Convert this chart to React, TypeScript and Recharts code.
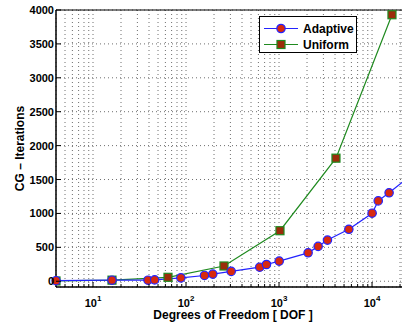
import { LineChart, Line, XAxis, YAxis, CartesianGrid, ReferenceLine, Legend, Label } from 'recharts'

const FONT = '"Liberation Sans", Arial, Helvetica, sans-serif'

const adaptiveDof = [4, 16, 39, 46, 88, 158, 194, 306, 620, 733, 1004, 2055, 2633, 3317, 5632, 10020, 11660, 15260, 26000]
const adaptiveIters = [8, 15, 15, 20, 50, 85, 105, 145, 207, 247, 296, 419, 514, 607, 766, 1003, 1185, 1304, 1560]

const uniformDof = [4, 16, 64, 256, 1024, 4096, 16384]
const uniformIters = [4, 16, 58, 225, 745, 1815, 3930]

const yTicks = [0, 500, 1000, 1500, 2000, 2500, 3000, 3500, 4000]
const xMajorTicks = [10, 100, 1000, 10000]
const xTicks = [
  5, 6, 7, 8, 9, 10,
  20, 30, 40, 50, 60, 70, 80, 90, 100,
  200, 300, 400, 500, 600, 700, 800, 900, 1000,
  2000, 3000, 4000, 5000, 6000, 7000, 8000, 9000, 10000,
  20000,
]

const adaptive = adaptiveDof.map((dof, i) => ({ dof, iters: adaptiveIters[i] }))
const uniform = uniformDof.map((dof, i) => ({ dof, iters: uniformIters[i] }))

const BLUE = '#2323ff'
const GREEN = '#1f8a1f'
const RED = '#d8290f'
const BROWN = '#9c2c0a'

function XTick({ x, y, payload }: any) {
  const major = xMajorTicks.includes(payload.value)
  const exp = Math.round(Math.log10(payload.value))
  return (
    <g>
      <line x1={x} x2={x} y1={y} y2={y - (major ? 5 : 3)} stroke="#000" strokeWidth={1} />
      {major && (
        <text x={x} y={y + 20} textAnchor="middle" fontFamily={FONT} fontWeight="bold" fontSize={11} fill="#000">
          10<tspan dy={-6} fontSize={8}>{exp}</tspan>
        </text>
      )}
    </g>
  )
}

function YTick({ x, y, payload }: any) {
  return (
    <g>
      <line x1={x} x2={x + 5} y1={y} y2={y} stroke="#000" strokeWidth={1} />
      <text x={x - 2} y={y + 4} textAnchor="end" fontFamily={FONT} fontWeight="bold" fontSize={11} fill="#000">
        {payload.value}
      </text>
    </g>
  )
}

function SquareDot(p: any) {
  return (
    <rect key={`u${p.index}`} x={p.cx - 4} y={p.cy - 4} width={8} height={8} fill={BROWN} stroke={GREEN} strokeWidth={1.2} />
  )
}

function LegendBox() {
  return (
    <div style={{ width: 96, height: 35, border: '1.5px solid #000', background: '#fff' }}>
      <svg width={96} height={35} style={{ display: 'block' }}>
        <line x1={4} x2={38} y1={11.5} y2={11.5} stroke={BLUE} strokeWidth={1.2} />
        <circle cx={21} cy={11.5} r={4.2} fill={RED} stroke={BLUE} strokeWidth={1.2} />
        <text x={43} y={15.5} fontFamily={FONT} fontWeight="bold" fontSize={12}>Adaptive</text>
        <line x1={4} x2={38} y1={27.5} y2={27.5} stroke={GREEN} strokeWidth={1.2} />
        <rect x={17} y={23.5} width={8} height={8} fill={BROWN} stroke={GREEN} strokeWidth={1.2} />
        <text x={43} y={31.5} fontFamily={FONT} fontWeight="bold" fontSize={12}>Uniform</text>
      </svg>
    </div>
  )
}

export default function App() {
  return (
    <div style={{ position: 'absolute', left: 0, top: 0, background: '#fff' }}>
      <LineChart width={402} height={323} margin={{ top: 10, right: 0, bottom: 0, left: 0 }}>
        <CartesianGrid stroke="#6e6e6e" strokeDasharray="1 3" />
        <XAxis
          dataKey="dof"
          type="number"
          scale="log"
          domain={[4, 21000]}
          allowDataOverflow
          ticks={xTicks}
          interval={0}
          height={36}
          tickSize={0}
          tickMargin={0}
          tick={<XTick />}
          axisLine={{ stroke: '#000', strokeWidth: 1.5 }}
        >
          <Label
            value="Degrees of Freedom [ DOF ]"
            position="center"
            dx={4}
            dy={10}
            style={{ fontFamily: FONT, fontWeight: 'bold', fontSize: 12, fill: '#000' }}
          />
        </XAxis>
        <YAxis
          dataKey="iters"
          type="number"
          domain={[-85, 4000]}
          allowDataOverflow
          ticks={yTicks}
          interval={0}
          width={56}
          tickSize={0}
          tickMargin={0}
          tick={<YTick />}
          axisLine={{ stroke: '#000', strokeWidth: 1.5 }}
        >
          <Label
            value="CG – Iterations"
            angle={-90}
            position="center"
            dx={-8}
            style={{ fontFamily: FONT, fontWeight: 'bold', fontSize: 12, fill: '#000', textAnchor: 'middle' }}
          />
        </YAxis>
        <ReferenceLine y={4000} stroke="#000" strokeWidth={1} />
        <Legend
          layout="vertical"
          align="center"
          verticalAlign="middle"
          content={<LegendBox />}
          wrapperStyle={{ left: 259, top: 16, width: 99, height: 38 }}
        />
        <Line
          data={uniform}
          dataKey="iters"
          name="Uniform"
          stroke={GREEN}
          strokeWidth={1.2}
          dot={SquareDot}
          isAnimationActive={false}
        />
        <Line
          data={adaptive}
          dataKey="iters"
          name="Adaptive"
          stroke={BLUE}
          strokeWidth={1.2}
          dot={{ r: 4.2, fill: RED, stroke: BLUE, strokeWidth: 1.2, clipDot: false }}
          isAnimationActive={false}
        />
      </LineChart>
    </div>
  )
}
